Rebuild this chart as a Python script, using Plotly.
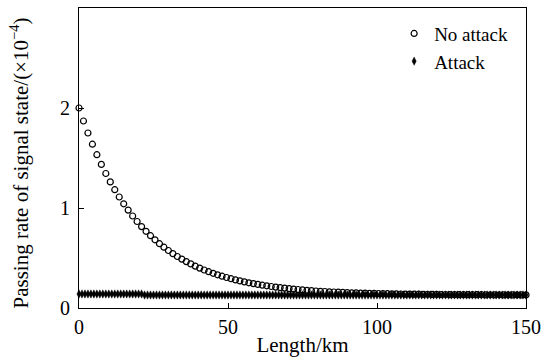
import plotly.graph_objects as go

length_km = [i * 1.5 for i in range(101)]

no_attack = [
    2.000, 1.870, 1.750, 1.638, 1.533, 1.436, 1.345, 1.261, 1.183, 1.110,
    1.042, 0.979, 0.920, 0.865, 0.814, 0.767, 0.723, 0.682, 0.643, 0.608,
    0.575, 0.544, 0.515, 0.489, 0.464, 0.441, 0.419, 0.399, 0.380, 0.363,
    0.347, 0.332, 0.318, 0.305, 0.293, 0.281, 0.271, 0.261, 0.252, 0.244,
    0.236, 0.228, 0.222, 0.215, 0.209, 0.204, 0.199, 0.194, 0.189, 0.185,
    0.181, 0.177, 0.174, 0.170, 0.167, 0.165, 0.162, 0.160, 0.158, 0.156,
    0.154, 0.152, 0.151, 0.149, 0.148, 0.147, 0.146, 0.145, 0.144, 0.143,
    0.142, 0.141, 0.140, 0.139, 0.139, 0.138, 0.138, 0.137, 0.137, 0.136,
    0.136, 0.135, 0.135, 0.134, 0.134, 0.134, 0.133, 0.133, 0.133, 0.133,
    0.133, 0.132, 0.132, 0.132, 0.132, 0.131, 0.131, 0.131, 0.131, 0.131,
    0.131,
]

attack_km = list(range(151))
attack = [
    0.14, 0.14, 0.14, 0.14, 0.14, 0.14, 0.14, 0.14, 0.14, 0.14,
    0.14, 0.14, 0.14, 0.14, 0.14, 0.14, 0.14, 0.14, 0.14, 0.14,
    0.14, 0.14, 0.13, 0.13, 0.13, 0.13, 0.13, 0.13, 0.13, 0.13,
    0.13, 0.13, 0.13, 0.13, 0.13, 0.13, 0.13, 0.13, 0.13, 0.13,
    0.13, 0.13, 0.13, 0.13, 0.13, 0.13, 0.13, 0.13, 0.13, 0.13,
    0.13, 0.13, 0.13, 0.13, 0.13, 0.13, 0.13, 0.13, 0.13, 0.13,
    0.13, 0.13, 0.13, 0.13, 0.13, 0.13, 0.13, 0.13, 0.13, 0.13,
    0.13, 0.13, 0.13, 0.13, 0.13, 0.13, 0.13, 0.13, 0.13, 0.13,
    0.13, 0.13, 0.13, 0.13, 0.13, 0.13, 0.13, 0.13, 0.13, 0.13,
    0.13, 0.13, 0.13, 0.13, 0.13, 0.13, 0.13, 0.13, 0.13, 0.13,
    0.13, 0.13, 0.13, 0.13, 0.13, 0.13, 0.13, 0.13, 0.13, 0.13,
    0.13, 0.13, 0.13, 0.13, 0.13, 0.13, 0.13, 0.13, 0.13, 0.13,
    0.13, 0.13, 0.13, 0.13, 0.13, 0.13, 0.13, 0.13, 0.13, 0.13,
    0.13, 0.13, 0.13, 0.13, 0.13, 0.13, 0.13, 0.13, 0.13, 0.13,
    0.13, 0.13, 0.13, 0.13, 0.13, 0.13, 0.13, 0.13, 0.13, 0.13,
    0.13,
]

x_ticks = [0, 50, 100, 150]
y_ticks = [0, 1, 2]
x_title = "Length/km"
y_title = "Passing rate of signal state/(×10<sup>−4</sup>)"

font_family = "Liberation Serif"

fig = go.Figure()
fig.add_trace(go.Scatter(
    x=length_km, y=no_attack, mode="markers", name="No attack",
    marker=dict(symbol="circle-open", size=6, color="black", line=dict(width=1.2)),
    cliponaxis=False,
))
fig.add_trace(go.Scatter(
    x=attack_km, y=attack, mode="markers", name="Attack",
    marker=dict(symbol="diamond-tall", size=6, color="black", line=dict(width=0.4, color="black")),
    cliponaxis=False,
))

axis_common = dict(
    showgrid=False, zeroline=False, showline=True, linecolor="black", linewidth=1,
    mirror=True, ticks="inside", ticklen=5, tickcolor="black", automargin=False,
    tickfont=dict(family=font_family, size=20, color="black"),
)

fig.update_layout(
    width=552, height=360,
    margin=dict(l=79, r=26, t=8, b=52),
    paper_bgcolor="white", plot_bgcolor="white",
    font=dict(family=font_family, color="black"),
    xaxis=dict(range=[0, 150], tickvals=x_ticks, ticklabelstandoff=1,
               title=dict(text=x_title, font=dict(family=font_family, size=21), standoff=0),
               **axis_common),
    yaxis=dict(range=[0, 3.0], tickvals=y_ticks, ticklabelstandoff=4,
               **axis_common),
    legend=dict(x=0.705, y=0.978, xanchor="left", yanchor="top",
                font=dict(family=font_family, size=19, color="black"),
                bgcolor="rgba(0,0,0,0)", itemwidth=30, tracegroupgap=0),
    showlegend=True,
    annotations=[dict(
        text=y_title, xref="paper", yref="paper", x=-0.132, y=0.485,
        xanchor="center", yanchor="middle", textangle=-90, showarrow=False,
        font=dict(family=font_family, size=21, color="black"),
    )],
)

fig.write_html("out.html", config={"displayModeBar": False},
               post_script="document.body.style.margin='0';")
